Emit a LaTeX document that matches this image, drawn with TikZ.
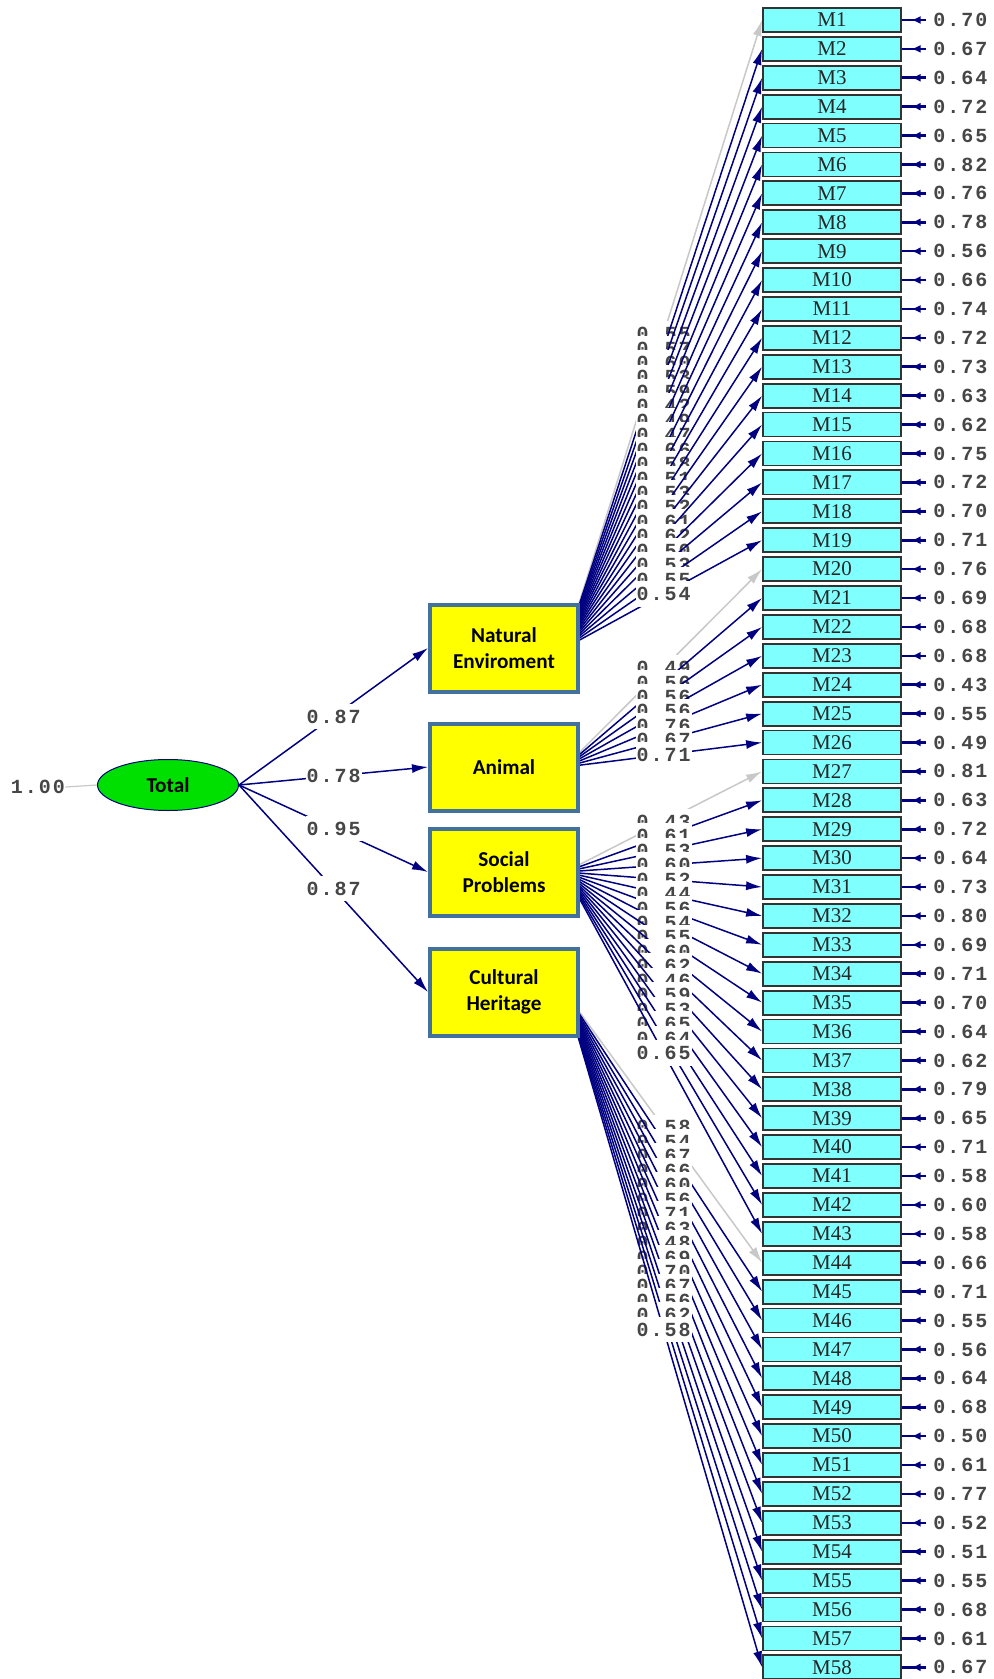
\documentclass[tikz,border=0pt]{standalone}
\usepackage{fontspec}
\setmainfont{Liberation Serif}
\newfontfamily\monofont{Liberation Mono}[LetterSpace=10]
\newfontfamily\boxfont{Carlito}
\usetikzlibrary{arrows.meta,shapes.geometric,decorations.markings}

\definecolor{pathblue}{RGB}{0,0,128}
\definecolor{fixgray}{RGB}{200,200,200}
\definecolor{mcyan}{RGB}{128,255,255}
\definecolor{lvyellow}{RGB}{255,255,0}
\definecolor{lvedge}{RGB}{65,113,156}
\definecolor{totgreen}{RGB}{0,224,0}
\definecolor{numgray}{RGB}{70,70,70}

\pgfdeclarelayer{paths}
\pgfsetlayers{paths,main}

\tikzset{
  mbox/.style={draw=black!80, line width=0.9pt, fill=mcyan, minimum width=69pt,
    minimum height=12pt, inner sep=0pt, text=black!85, font=\fontsize{10.5}{10}\selectfont},
  lvbox/.style={draw=lvedge, line width=2pt, fill=lvyellow, minimum width=74pt,
    minimum height=43.5pt, inner sep=0pt, align=center,
    font=\boxfont\bfseries\fontsize{10.6}{12.9}\selectfont},
  lbl/.style={fill=white, inner xsep=0.5pt, inner ysep=3pt, text=numgray,
    font=\monofont\bfseries\fontsize{10}{10}\selectfont},
  errnum/.style={inner ysep=0pt, inner xsep=3.5pt, anchor=west, text=numgray,
    font=\monofont\bfseries\fontsize{10}{10}\selectfont},
  load/.style={draw=pathblue, line width=0.75pt, -{Latex[length=8pt,width=4.5pt]}},
  fixed/.style={load, draw=fixgray},
  errarr/.style={draw=pathblue, line width=1.3pt, postaction={decorate},
    decoration={markings, mark=at position 0.6 with {\arrow[pathblue]{Latex[length=4.5pt,width=4pt]}}}}
}

\begin{document}
\begin{tikzpicture}[x=0.5pt, y=-0.5pt]
\useasboundingbox (0,0) rectangle (993,1679);

% indicators with their error variances
\foreach \i/\v in {1/0.70,2/0.67,3/0.64,4/0.72,5/0.65,6/0.82,7/0.76,8/0.78,9/0.56,10/0.66,
  11/0.74,12/0.72,13/0.73,14/0.63,15/0.62,16/0.75,17/0.72,18/0.70,19/0.71,20/0.76,
  21/0.69,22/0.68,23/0.68,24/0.43,25/0.55,26/0.49,27/0.81,28/0.63,29/0.72,30/0.64,
  31/0.73,32/0.80,33/0.69,34/0.71,35/0.70,36/0.64,37/0.62,38/0.79,39/0.65,40/0.71,
  41/0.58,42/0.60,43/0.58,44/0.66,45/0.71,46/0.55,47/0.56,48/0.64,49/0.68,50/0.50,
  51/0.61,52/0.77,53/0.52,54/0.51,55/0.55,56/0.68,57/0.61,58/0.67} {
  \node[mbox] (m\i) at (832, {20+(\i-1)*28.9}) {M\i};
  \node[errnum] (e\i) at (926, {20+(\i-1)*28.9}) {\v};
  \draw[errarr] (e\i.west) -- (m\i.east);
}

% latent variables
\node[draw=pathblue, line width=0.5pt, fill=totgreen, ellipse, minimum width=70.5pt,
  minimum height=25.5pt, inner sep=0pt, font=\boxfont\bfseries\fontsize{10.6}{12}\selectfont]
  (total) at (168,785) {Total};
\node[lvbox] (nat) at (504,648) {Natural\\Enviroment};
\node[lvbox] (ani) at (504,767) {Animal};
\node[lvbox] (soc) at (504,872) {Social\\Problems};
\node[lvbox] (cul) at (504,992) {Cultural\\Heritage};

\coordinate (natO) at (565,648);
\coordinate (aniO) at (565,767);
\coordinate (socO) at (565,872);
\coordinate (culO) at (565,992);

\begin{pgfonlayer}{paths}
\draw[fixed] (natO) -- node[lbl] {0.55} (m1.west);
\foreach \i/\v in {2/0.57,3/0.60,4/0.53,5/0.59,6/0.42,7/0.49,8/0.47,9/0.66,10/0.58,
  11/0.51,12/0.53,13/0.52,14/0.61,15/0.62,16/0.50,17/0.53,18/0.55,19/0.54}
  \draw[load] (natO) -- node[lbl] {\v} (m\i.west);

\draw[fixed] (aniO) -- node[lbl] {0.49} (m20.west);
\foreach \i/\v in {21/0.56,22/0.56,23/0.56,24/0.76,25/0.67,26/0.71}
  \draw[load] (aniO) -- node[lbl] {\v} (m\i.west);

\draw[fixed] (socO) -- node[lbl] {0.43} (m27.west);
\foreach \i/\v in {28/0.61,29/0.53,30/0.60,31/0.52,32/0.44,33/0.56,34/0.54,35/0.55,
  36/0.60,37/0.62,38/0.46,39/0.59,40/0.53,41/0.65,42/0.64,43/0.65}
  \draw[load] (socO) -- node[lbl] {\v} (m\i.west);

\draw[fixed] (culO) -- node[lbl] {0.58} (m44.west);
\foreach \i/\v in {45/0.54,46/0.67,47/0.66,48/0.60,49/0.56,50/0.71,51/0.63,52/0.48,
  53/0.69,54/0.70,55/0.67,56/0.56,57/0.62,58/0.58}
  \draw[load] (culO) -- node[lbl] {\v} (m\i.west);
\end{pgfonlayer}

% second order paths
\draw[load] (total.east) -- node[lbl] {0.87} (nat.west);
\draw[load] (total.east) -- node[lbl] {0.78} (ani.west);
\draw[load] (total.east) -- node[lbl] {0.95} (soc.west);
\draw[load] (total.east) -- node[lbl] {0.87} (cul.west);

\node[errnum, anchor=center, inner xsep=0pt] (tvar) at (38,787) {1.00};
\draw[fixgray, line width=0.6pt] (tvar.east) -- (total.west);
\end{tikzpicture}
\end{document}
